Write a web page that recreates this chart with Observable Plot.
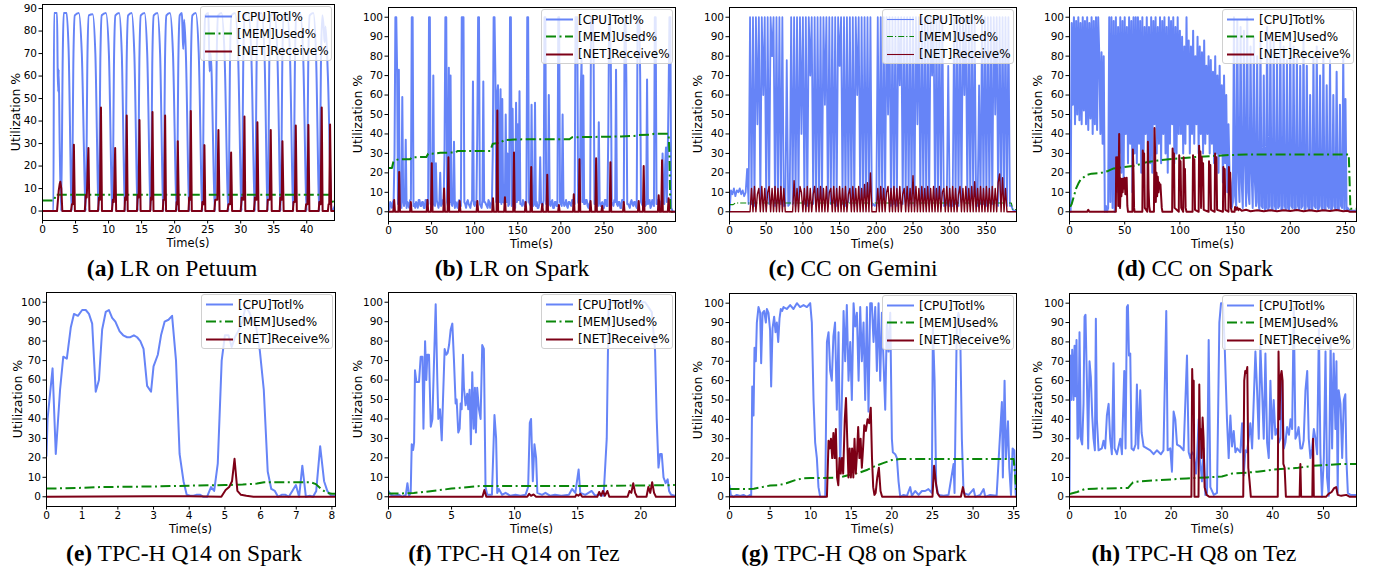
<!DOCTYPE html>
<html><head><meta charset="utf-8">
<script src="https://cdn.jsdelivr.net/npm/d3@7"></script>
<script src="https://cdn.jsdelivr.net/npm/@observablehq/plot@0.6"></script>
<style>
body{margin:0;background:#fff;width:1378px;height:569px;position:relative;overflow:hidden;font-family:"DejaVu Sans",sans-serif;color:#000;}
.ylab{position:absolute;font-size:12.5px;transform:translate(-50%,-50%) rotate(-90deg);white-space:nowrap;}
.xlab{position:absolute;font-size:11.5px;transform:translate(-50%,-50%);white-space:nowrap;}
.cap{position:absolute;font-family:"Liberation Serif",serif;font-size:23.5px;transform:translate(-50%,-50%);white-space:nowrap;}
.leg{position:absolute;width:132px;height:55px;background:rgba(255,255,255,0.8);border:1px solid #d0d0d0;border-radius:3px;box-sizing:border-box;}
.leg .row{position:absolute;left:0;height:17px;width:130px;}
.leg svg{position:absolute;left:4px;top:0;}
.leg span{position:absolute;left:36px;top:50%;transform:translateY(-50%);font-size:12px;white-space:nowrap;}
</style></head><body>
<script>
// ---------- labels ----------
const seriesNames = ["[CPU]Totl%", "[MEM]Used%", "[NET]Receive%"];
const captionLetters = ["(a)", "(b)", "(c)", "(d)", "(e)", "(f)", "(g)", "(h)"];
const captionTexts = ["LR on Petuum", "LR on Spark", "CC on Gemini", "CC on Spark",
  "TPC-H Q14 on Spark", "TPC-H Q14 on Tez", "TPC-H Q8 on Spark", "TPC-H Q8 on Tez"];
const yLabel = "Utilization %";
const xLabel = "Time(s)";

// ---------- tick labels ----------
const aYTicks = [0, 10, 20, 30, 40, 50, 60, 70, 80, 90];
const pctTicks = [0, 10, 20, 30, 40, 50, 60, 70, 80, 90, 100];
const aXTicks = [0, 5, 10, 15, 20, 25, 30, 35, 40];
const bXTicks = [0, 50, 100, 150, 200, 250, 300];
const cXTicks = [0, 50, 100, 150, 200, 250, 300, 350];
const dXTicks = [0, 50, 100, 150, 200, 250];
const eXTicks = [0, 1, 2, 3, 4, 5, 6, 7, 8];
const fXTicks = [0, 5, 10, 15, 20];
const gXTicks = [0, 5, 10, 15, 20, 25, 30, 35];
const hXTicks = [0, 10, 20, 30, 40, 50];

// ---------- (a) LR on Petuum : [time s, %] ----------
const aCpu = [[0,0],[1.65,0],[1.75,88],[2.2,88],[2.3,62],[2.38,53],[2.45,63],[2.6,30],[2.82,0],
 [3.07,70],[3.2,88],[3.65,88],[3.95,72],[4.44,0],
 [4.69,70],[4.89,87],[5.5,88],[5.95,70],[6.56,0],
 [6.81,70],[7.01,87],[7.6,87.5],[8.0,70],[8.52,0],
 [8.77,70],[8.97,87],[9.6,88],[10.05,70],[10.59,0],
 [10.84,70],[11.04,87],[11.6,88],[12.0,70],[12.51,0],
 [12.76,70],[12.96,87],[13.5,88],[13.9,70],[14.43,0],
 [14.68,70],[14.88,87],[15.45,88],[15.85,70],[16.39,0],
 [16.64,70],[16.84,87],[17.4,88],[17.8,70],[18.31,0],
 [18.56,70],[18.76,87],[19.3,88],[19.75,70],[20.33,0],
 [20.58,70],[20.78,87],[21.1,88],[21.2,80],[21.3,72],[21.45,85],[21.7,70],[22.24,0],
 [22.49,70],[22.69,87],[23.2,88],[23.65,70],[24.21,0],
 [24.46,70],[24.66,87],[25.1,88],[25.2,75],[25.3,62],[25.45,70],[26.13,0],
 [26.38,70],[26.58,87],[27.1,88],[27.55,70],[28.15,0],
 [28.4,70],[28.6,87],[29.15,88],[29.6,70],[30.16,0],
 [30.41,70],[30.61,87],[31.15,88],[31.6,70],[32.18,0],
 [32.43,70],[32.63,87],[33.15,88],[33.6,70],[34.1,0],
 [34.35,70],[34.55,87],[35.1,88],[35.55,70],[36.07,0],
 [36.32,70],[36.52,87],[37.0,88],[37.45,70],[37.98,0],
 [38.23,70],[38.43,87],[39.0,88],[39.45,70],[40.0,0],
 [40.25,70],[40.45,87],[41.0,88],[41.4,70],[41.92,0],
 [42.17,70],[42.37,87],[42.6,80],[42.7,75],[42.85,82],[43.2,60],[43.78,0],[44.2,2]];
const aMem = [[0,4.7],[1.8,4.7],[1.95,7.2],[43.5,7.2],[43.8,5],[44.2,3]];
const aNet = [[0,0],[2.2,0],[2.45,9],[2.6,12],[2.7,13],[2.85,10],[3.0,0],
 [4.3,0],[4.45,3],[4.6,3],[4.75,29.5],[4.9,0],
 [6.4,0],[6.55,7],[6.7,6],[6.95,28],[7.1,0],
 [8.4,0],[8.55,6],[8.7,5],[8.85,46],[9.0,0],
 [10.5,0],[10.65,5],[10.8,4],[11.0,28],[11.15,0],
 [12.4,0],[12.5,6],[12.65,5],[12.75,42.5],[12.9,0],
 [14.3,0],[14.4,7],[14.55,6],[14.68,40.5],[14.85,0],
 [16.3,0],[16.4,6],[16.5,5],[16.65,44],[16.8,0],
 [18.2,0],[18.3,5],[18.45,5],[18.56,42.5],[18.7,0],
 [20.2,0],[20.3,4],[20.4,3],[20.48,31],[20.65,0],
 [22.1,0],[22.2,6],[22.35,5],[22.45,44.5],[22.6,0],
 [24.1,0],[24.2,4],[24.4,3],[24.51,29.3],[24.65,0],
 [26.0,0],[26.15,5],[26.45,5],[26.63,36],[26.8,0],
 [28.0,0],[28.15,3],[28.4,3],[28.55,26],[28.7,0],
 [30.0,0],[30.15,6],[30.4,5],[30.57,42],[30.7,0],
 [32.0,0],[32.15,6],[32.4,5],[32.53,39.5],[32.7,0],
 [34.0,0],[34.1,5],[34.4,5],[34.55,36],[34.7,0],
 [35.9,0],[36.0,6],[36.2,5],[36.32,31],[36.5,0],
 [37.9,0],[38.0,4],[38.2,4],[38.34,38],[38.5,0],
 [39.8,0],[39.9,3],[40.1,3],[40.25,38.3],[40.4,0],
 [41.8,0],[41.9,4],[42.1,3],[42.27,46],[42.4,0],
 [43.2,0],[43.3,3],[43.4,3],[43.53,38.5],[43.7,0],[44.2,0]];

// ---------- (b) LR on Spark : CPU sampled every 1 s ----------
const bSampleStep = 1;
const bCpu = [
 3,1,5,4,2,5,6,30,100,100, 72,4,73,5,4,2,59,6,3,5, 37,2,5,4,2,6,6,100,100,3, 4,2,5,4,2,6,6,3,3,5,
 5,2,2,6,6,3,4,100,100,4, 5,3,70,4,3,25,6,4,2,5, 20,3,4,6,6,30,100,100,5,3, 74,5,70,4,3,5,36,2,5,4,
 2,5,6,3,3,100,100,100,5,4, 2,5,6,4,3,2,5,6,67,4, 3,5,5,40,100,100,4,3,2,6, 67,5,5,4,3,2,6,5,2,4,
 5,30,100,100,70,5,60,65,33,5, 63,4,58,5,5,4,50,5,30,3, 4,100,100,3,53,4,5,2,56,5, 45,6,62,4,4,3,6,5,3,4,
 5,100,100,5,4,3,55,5,3,4, 56,3,5,2,2,4,28,5,4,3, 6,100,100,4,5,3,60,4,3,5, 6,2,2,5,5,3,3,100,100,5,
 4,3,50,5,3,4,6,3,2,5, 5,4,3,6,6,4,4,100,100,100, 5,4,3,60,78,5,70,4,4,6, 6,3,2,4,5,100,100,100,80,4,
 4,5,6,3,46,5,3,4,5,2, 2,6,6,3,3,40,100,100,75,5, 4,3,6,5,73,4,3,5,5,2, 2,6,6,5,100,100,67,4,4,3,
 2,5,6,4,3,5,5,3,2,100, 100,100,70,5,4,3,6,5,3,4, 68,4,5,6,2,3,6,5,3,100, 100,4,4,6,6,5,2,3,30,5,
 4,24,33,5,30,60,100,100,2,1, 0,0,0];
const bMem = [[0,22.5],[4,22.5],[5.5,25.5],[8,26.5],[12,27],[25,27],[27,28],[44,28.2],[46,29.8],[56,30],[60,30.3],[78,30.5],[80,31.2],[118,31.3],[121,35],[130,35.5],[134,36.8],[146,37.2],[210,37.3],[213,38.3],[270,38.7],[285,39],[290,39.4],[305,39.6],[308,40.1],[325,40.1],[326,30],[327,0],[333,0]];
const bNet = [[0,0],[5.5,0],[6.6,6],[7.5,0],[11.5,0],[12.4,20.5],[13.3,0],[25,0],[25.9,5],[26.8,0],[44.3,0],[45.2,6],[46.1,0],[49.3,0],[50.2,25],[51.1,0],[63.6,0],[64.5,12],[65.4,0],[68.6,0],[69.5,28],[70.4,0],[81.7,0],[82.6,5.5],[83.5,0],[102.2,0],[103.1,5.5],[104,0],[120.3,0],[121.2,7],[122.1,0],[125.4,0],[126.3,52],[127.2,0],[134.2,0],[135.1,7.5],[136,0],[144.7,0],[145.6,30.5],[146.5,0],[158.2,0],[159.1,5],[160,0],[164.7,0],[165.6,23],[166.5,0],[177.5,0],[178.4,4],[179.3,0],[183.3,0],[184.2,19],[185.1,0],[196.8,0],[197.7,3.5],[198.6,0],[214.1,0],[215,9],[215.9,0],[220.7,0],[221.6,27],[222.5,0],[233.5,0],[234.4,5.5],[235.3,0],[240,0],[240.9,27.5],[241.8,0],[247,0],[247.9,3],[248.8,0],[256.6,0],[257.5,25.5],[258.4,0],[272.1,0],[273,5],[273.9,0],[289.4,0],[290.3,5.5],[291.2,0],[295.2,0],[296.1,23.5],[297,0],[312.6,0],[313.5,8.5],[314.4,0],[316.5,0],[317.4,26.5],[318.3,0],[324.1,0],[325,7],[325.9,0],[333,0]];

// ---------- (c) CC on Gemini : CPU and NET sampled every 2 s ----------
const cSampleStep = 2;
const cCpu = [0,11,9,12,8,11,10,12,9,11,8,10,22,4,
 100,4,100,3,100,45,100,4,100,60,100,3,100,4,100,80,100,3,100,5,100,4,100,3,
 3,78,3,4,
 100,4,100,3,100,5,100,40,100,4,100,3,100,70,100,4,100,3,100,5,100,4,100,55,100,3,100,4,100,5,100,3,100,75,100,4,100,3,100,5,100,4,100,3,100,60,100,4,100,3,100,5,100,4,100,
 3,4,3,4,
 100,3,100,4,100,5,100,50,100,3,100,4,100,3,100,65,100,4,100,5,100,3,100,4,100,3,100,45,100,4,100,5,100,3,100,4,100,70,100,3,100,4,100,5,100,3,
 3,4,75,3,4,3,
 100,4,100,3,100,5,100,60,100,4,100,3,100,5,100,3,
 3,65,4,
 100,4,100,3,100,5,100,4,100,50,100,3,100,4,100,5,100,3,100,
 3,3,1,0.5,0.5];
const cNet = [0,0,0,0,0,0,0,0,0,0,0,0,0,0,0,
 12,0,13,0,9,12,0,13,0,12,0,10,13,0,12,0,13,0,12,0,13,0,12,
 0,0,0,0,0,0,
 16,0,12,0,13,10,0,12,0,13,0,12,0,9,13,0,12,0,13,0,12,0,13,0,10,12,0,13,0,12,0,13,0,12,0,13,0,9,12,0,13,0,12,0,13,0,12,0,14,0,15,0,20,
 0,0,0,0,
 12,0,13,0,12,0,10,13,0,12,0,13,0,12,0,13,0,9,12,0,13,0,12,0,18.5,0,13,0,12,0,13,0,12,0,13,
 0,
 12,0,13,0,12,0,13,0,10,12,0,13,0,12,0,13,0,12,0,9,13,0,12,0,13,0,12,0,13,0,15.5,0,12,0,13,0,12,0,13,0,12,0,13,0,12,0,15,19.5,
 0,17.5,0,12,0,
 0,0,0,0,0,0];
const cMem = [[0,3.7],[5,3.7],[8,4.5],[384,4.5],[386,1.2],[391,1.2]];

// ---------- (d) CC on Spark : CPU sampled every 1 s ----------
const dSampleStep = 1;
const dCpu = [47,0,97,55,100,45,98,50,100,47,97,45,100,52,98,45,100,42,97,48,100,40,98,45,100,42,
 100,80,40,82,35,80,0,3,0,2,
 100,5,100,2,98,0,100,10,95,30,100,20,98,15,100,40,95,25,100,35,98,10,100,30,100,
 25,100,35,98,20,100,15,95,40,100,30,95,25,100,20,98,45,100,30,95,35,100,25,98,40,100,30,95,20,100,35,98,45,100,25,95,30,100,40,93,
 40,90,30,85,35,100,45,88,30,85,40,93,35,80,45,90,30,85,40,82,30,88,35,75,40,80,30,78,35,72,25,80,30,70,20,75,30,65,15,70,25,60,10,45,20,15,
 2,5,100,8,3,98,20,5,95,15,2,93,25,3,100,10,4,85,20,2,90,15,3,80,5,1,88,3,2,70,1,2,95,1,3,90,2,1,88,3,1,80,2,3,92,1,2,85,3,1,78,2,1,90,3,2,85,1,2,80,3,1,75,2,3,91,1,2,75,3,1,60,2,1,80,3,2,85,1,2,70,3,1,82,2,1,65,3,2,78,1,2,60,3,1,72,2,1,55,3,2,80,1,58,1,2,
 1,0.5,0.5,0.5,0.5,0.5,0.5,0.5];
const dMem = [[0,3],[1,3],[2,4],[4,8],[6,12],[8,14.5],[10,16.5],[13,17.8],[16,19],[20,19.6],[26,19.8],[30,20.2],[35,21],[40,22.3],[50,23],[60,23.8],[70,25.5],[80,26.3],[90,27],[100,27.5],[115,28.2],[130,28.7],[146,29.2],[160,29.4],[200,29.5],[253,29.5],[254.5,1.5],[260,1.5]];
const dNet = [[0,0],[16,0],[17,1],[18,0],[42,0],[42.3,28],[43,20],[43.6,28],[44.2,3],[45,40],[45.8,2],[46.4,17],[47,8],[47.6,17],[48.2,10],[48.8,17],[49.4,12],[50,17.5],[50.6,9],[51.2,16],[51.8,17.5],[52.4,3],[53,0],[57,0],[57.4,32],[58,20],[58.5,2],[59,0],[66,0],[66.4,31.5],[67,25],[67.6,30],[68.2,2],[70.5,0],[71,36],[71.6,12],[72.2,3],[73,0],[76.5,0],[77,43],[77.6,30],[78.2,5],[78.8,20],[79.4,8],[80,18],[80.6,10],[81.2,15],[81.8,12],[82.4,14],[83,8],[83.6,2],[84.2,0],[93,0],[93.4,32.5],[94,25],[94.6,30],[95.2,2],[99,0],[99.4,29],[100,20],[100.6,26],[101.2,2],[103,0],[103.4,28],[104,15],[104.6,22],[105.2,2],[106,0],[111.5,0],[111.9,29],[112.5,20],[113.1,27],[113.7,1],[117,0],[117.4,34],[118,25],[118.6,31],[119.2,2],[119.8,28],[120.4,15],[121,25],[121.6,1],[126,0],[126.4,26],[127,18],[127.6,24],[128.2,1],[131.5,0],[131.9,30],[132.5,20],[133.1,28],[133.7,1],[139,0],[139.4,23],[140,15],[140.6,22],[141.2,1],[144,0],[144.4,23],[145,12],[145.6,20],[146.2,2],[147,0],[149.5,0],[150,2.5],[151,1],[152,2.2],[153,0.8],[154,1.5],[156,0.5],[160,1],[164,0.3],[170,0.8],[176,0.3],[182,0.8],[188,0.3],[194,0.8],[200,0.4],[206,0.9],[212,0.3],[218,0.8],[224,0.3],[230,0.8],[236,0.4],[242,0.9],[248,0.3],[252,0.5],[254,0],[260,0]];

// ---------- (e) TPC-H Q14 on Spark ----------
const eCpu = [[0,21],[0.03,40],[0.17,66],[0.26,22],[0.38,55],[0.47,72],[0.57,71],[0.68,87],[0.77,94],[0.88,93],[1.0,96],[1.1,96],[1.19,94],[1.28,89],[1.38,54],[1.47,60],[1.56,86],[1.66,95],[1.75,96],[1.84,92],[1.93,90],[2.05,85],[2.15,83],[2.26,82],[2.35,82],[2.45,83],[2.54,82],[2.63,80],[2.72,76],[2.82,57],[2.93,54],[3.0,67],[3.12,73],[3.21,83],[3.31,90],[3.42,91],[3.52,93],[3.63,70],[3.73,22],[3.84,8],[3.93,1],[4.03,0.5],[4.12,0.5],[4.2,1],[4.31,1],[4.4,0],[4.5,0],[4.61,5],[4.7,3],[4.8,17],[4.91,70],[5.0,83],[5.1,83],[5.19,77],[5.28,82],[5.4,86],[5.49,90],[5.58,98],[5.68,95],[5.78,90],[5.87,88],[5.98,75],[6.09,55],[6.2,13],[6.3,4],[6.4,3],[6.49,0],[6.59,1],[6.7,1],[6.79,0],[6.89,3],[6.99,6],[7.08,0],[7.17,16],[7.27,0],[7.38,0.5],[7.47,0],[7.56,3],[7.67,26],[7.78,8],[7.87,3],[7.98,0.5],[8.1,0.5]];
const eMem = [[0,4.2],[1,4.6],[1.5,5],[2,5.1],[3,5.3],[4,5.7],[5,6],[5.5,6.3],[5.9,6.8],[6.1,7.5],[7.4,7.5],[7.55,6.5],[7.7,4],[7.85,2],[8.0,1.5],[8.1,1.5]];
const eNet = [[0,0],[3,0.3],[4,0.3],[4.9,0],[5.02,3.5],[5.12,5],[5.2,8],[5.27,19.5],[5.35,3],[5.45,1],[5.6,0.5],[5.8,0],[8.1,0]];

// ---------- (f) TPC-H Q14 on Tez ----------
const fCpu = [[0,3],[0.18,1],[0.45,0.5],[0.84,1],[1.1,0],[1.37,1],[1.5,7],[1.63,0.5],[1.76,2],[1.84,27],[1.95,24],[2.03,28],[2.1,65],[2.21,59],[2.42,59],[2.55,72],[2.69,72],[2.77,35],[2.9,80],[3.0,60],[3.08,73],[3.21,73],[3.35,36],[3.48,40],[3.61,70],[3.74,99],[3.87,60],[3.95,40],[4.08,45],[4.22,29],[4.32,50],[4.45,76],[4.58,73],[4.69,74],[4.8,78],[4.93,86],[5.06,89],[5.19,70],[5.32,48],[5.4,50],[5.53,33],[5.64,35],[5.72,48],[5.8,45],[5.9,73],[5.98,56],[6.11,47],[6.24,53],[6.32,45],[6.43,55],[6.53,27],[6.64,64],[6.75,35],[6.85,56],[6.93,33],[7.03,56],[7.17,45],[7.3,40],[7.43,78],[7.56,76],[7.69,5],[7.83,1],[8.2,1],[8.4,42],[8.53,30],[8.62,2],[8.75,4],[9.0,1],[9.28,2],[9.67,0.5],[10.07,1],[10.46,0.5],[10.86,1],[11.07,5],[11.2,38],[11.3,40],[11.44,8],[11.57,27],[11.7,20],[11.8,2],[12.17,1],[12.44,2],[12.83,0.5],[13.2,1],[13.7,0.5],[14.3,1],[14.55,4],[14.81,2],[15.07,14],[15.2,2],[15.6,1],[16.1,3],[16.39,0.5],[16.65,1],[17.05,0.5],[17.3,30],[17.45,100],[17.7,100],[20.34,100],[20.87,95],[21.13,75],[21.26,40],[21.4,15],[21.53,22],[21.66,22],[21.8,10],[21.97,7],[22.13,9],[22.24,3],[22.4,1],[22.7,0.5]];
const fMem = [[0,1.7],[1,1.7],[2,2],[3,2.6],[4,3.4],[5,4.2],[6,4.8],[7,5.4],[7.5,5.6],[10,5.5],[15,5.5],[20,5.8],[22.7,6]];
const fNet = [[0,0],[7.45,0],[7.6,3.5],[7.75,0],[11.0,0],[11.15,1.5],[11.3,0.5],[11.5,1.2],[11.7,0],[14.8,0],[14.9,1.2],[15.05,0.5],[15.2,1.5],[15.35,0],[16.55,0],[16.7,2.5],[16.85,0.5],[17.0,3],[17.15,0.5],[17.35,3],[17.5,0],[18.95,0],[19.1,3],[19.25,2],[19.4,7],[19.55,2],[19.7,0],[20.45,0],[20.6,5],[20.75,2],[20.9,7.5],[21.05,2],[21.2,0],[22.7,0]];

// ---------- (g) TPC-H Q8 on Spark ----------
const gCpu = [[0,6],[0.16,1],[0.49,0],[0.9,1],[1.31,0.5],[1.72,1],[2.13,0],[2.55,1],[2.67,0.5],[2.8,57],[2.96,42],[3.08,77],[3.24,70],[3.37,90],[3.57,98],[3.78,95],[3.9,69],[4.07,95],[4.27,96],[4.48,90],[4.6,97],[4.8,95],[5.0,86],[5.13,57],[5.3,87],[5.5,93],[5.67,85],[5.83,90],[6.0,80],[6.16,92],[6.32,97],[6.49,96],[6.65,98],[7.06,97],[7.47,99],[7.88,97],[8.3,100],[8.7,98],[9.12,99],[9.53,98],[9.94,100],[10.14,90],[10.35,50],[10.55,28],[10.76,20],[10.96,5],[11.17,0],[11.58,0],[11.79,0],[12.0,80],[12.2,85],[12.4,65],[12.6,60],[12.8,83],[13.0,90],[13.22,45],[13.43,85],[13.63,15],[13.84,50],[14.05,96],[14.25,70],[14.45,99],[14.66,60],[14.87,80],[15.07,50],[15.28,100],[15.48,88],[15.69,95],[15.9,60],[16.1,98],[16.3,70],[16.51,90],[16.71,50],[16.92,98],[17.12,44],[17.33,100],[17.53,100],[17.74,80],[17.95,98],[18.15,65],[18.36,100],[18.56,60],[18.77,95],[18.97,70],[19.18,45],[19.38,90],[19.59,75],[19.8,95],[20.0,30],[20.12,23],[20.41,22],[20.62,20],[20.82,8],[21.03,0],[21.44,1],[21.85,0.5],[22.26,5],[22.46,0.5],[22.87,3],[23.29,1],[23.7,3],[24.1,3],[24.5,4],[24.92,2],[25.05,88],[25.26,60],[25.46,6],[25.75,1],[26.37,0.5],[26.98,1],[27.6,17],[27.72,2],[28.0,90],[28.2,95],[28.4,90],[28.62,30],[28.83,2],[29.45,1],[30.06,4],[30.27,0],[30.88,1],[31.3,4],[31.5,0],[32.1,1],[32.9,0.5],[33.55,49],[33.67,10],[33.88,60],[34.05,20],[34.3,39],[34.46,15],[34.67,1],[34.87,25],[35.08,24],[35.24,2],[35.3,0]];
const gMem = [[0,4],[2,4],[3,4.2],[4,5],[5,5.8],[6,6],[7,7],[8,8.5],[9,9.5],[10,9.7],[13,9.8],[14,10.5],[15,11.5],[16,12.5],[17,14],[18,16],[19,17.5],[20,19],[21,19.5],[35,19.5],[35.2,10],[35.3,3]];
const gNet = [[0,0],[12.0,0],[12.2,29],[12.35,25],[12.5,30],[12.65,20],[12.8,33],[12.95,20],[13.1,35],[13.25,10],[13.4,6],[13.55,20],[13.7,12],[13.85,20],[14.0,12],[14.2,40],[14.35,51],[14.5,30],[14.65,10],[14.8,25],[14.95,10],[15.1,25],[15.25,10],[15.4,30],[15.55,12],[15.7,22],[15.85,36],[16.0,20],[16.15,30],[16.3,15],[16.45,25],[16.6,37],[16.8,34],[17.0,40],[17.2,38],[17.4,46],[17.55,20],[17.7,5],[17.85,1],[18.0,2],[18.2,10],[18.4,15],[18.6,3],[18.8,0],[25.0,0],[25.2,16],[25.4,8],[25.6,2],[25.9,0],[28.5,0],[28.75,5],[29.0,0],[35.3,0]];

// ---------- (h) TPC-H Q8 on Tez ----------
const hCpu = [[0,3],[0.13,73],[0.33,50],[0.53,76],[0.79,50],[0.99,78],[1.18,52],[1.38,81],[1.58,30],[1.77,31],[1.97,85],[2.23,30],[2.5,27],[2.76,48],[2.96,93],[3.15,94],[3.42,60],[3.68,25],[3.94,70],[4.2,62],[4.47,42],[4.73,30],[5.0,24],[5.19,92],[5.39,40],[5.72,24],[6.37,25],[6.7,29],[7.03,25],[7.36,42],[7.7,48],[8.0,30],[8.34,22],[8.67,69],[8.87,25],[9.33,22],[10.0,30],[10.32,22],[10.78,65],[11.04,25],[11.3,98],[11.5,99],[11.7,73],[11.96,74],[12.22,25],[12.62,24],[13.0,27],[13.27,58],[13.53,25],[13.93,55],[14.2,33],[14.59,26],[15.24,25],[15.9,24],[16.56,22],[17.2,24],[18.0,22],[18.5,24],[19.05,96],[19.32,24],[19.84,25],[20.17,13],[20.5,44],[20.83,40],[21.16,27],[21.8,26],[22.47,24],[23.13,73],[23.46,23],[23.8,20],[24.1,23],[24.45,22],[24.9,12],[25.1,20],[25.43,40],[25.75,18],[26.08,8],[26.41,25],[26.74,1],[27.07,2],[27.4,81],[27.73,5],[28.4,1],[29.04,2],[29.5,90],[29.83,100],[30.2,100],[30.55,78],[31.0,40],[31.34,20],[31.67,42],[32.0,26],[32.33,34],[32.66,23],[33.0,25],[33.64,23],[33.97,38],[34.3,11],[34.63,24],[34.96,23],[35.6,38],[35.95,25],[36.6,75],[36.93,55],[37.26,30],[37.58,78],[37.91,55],[38.24,30],[38.57,74],[38.9,28],[39.23,20],[39.55,60],[39.88,30],[40.2,50],[40.53,32],[40.87,35],[41.2,28],[41.52,30],[41.85,60],[42.2,25],[42.5,28],[42.84,36],[43.2,32],[43.5,40],[43.83,35],[44.15,98],[44.48,30],[44.8,32],[45.1,36],[45.46,25],[45.8,25],[46.1,29],[46.45,55],[46.8,65],[47.1,30],[47.43,20],[47.76,25],[48.1,35],[48.42,30],[48.75,22],[49.1,88],[49.4,22],[49.7,0],[50.07,20],[50.4,75],[50.7,10],[51.05,0.5],[51.4,80],[51.7,25],[52.0,74],[52.35,35],[52.55,70],[52.8,2],[53.0,55],[53.35,48],[53.68,20],[54.0,50],[54.3,53],[54.5,20],[54.8,2],[55.3,1],[56.5,1]];
const hMem = [[0,1.5],[1.5,2.5],[3,4],[5,4.2],[10,4.5],[11.5,4.5],[12,6],[12.5,7.5],[14,8],[17,8.5],[20,9],[23,9.5],[27,10],[30,10.5],[32,12],[35,12.5],[37,13],[40,14],[45,15],[48,16],[51,16.5],[54,17],[56.5,17]];
const hNet = [[0,0],[24.0,0],[24.15,66],[24.3,50],[24.45,60],[24.6,0],[25.4,0],[25.55,58],[25.7,30],[25.85,35],[26.0,20],[26.2,41],[26.4,30],[26.6,5],[27.0,1],[27.5,0],[34.2,0],[34.4,60],[34.6,65],[34.8,64],[35.0,67],[35.2,15],[35.45,8],[35.7,0],[41.0,0],[41.15,75],[41.35,40],[41.55,62],[41.75,65],[41.95,60],[42.1,17],[42.35,15],[42.6,0],[45.3,0],[45.45,17],[45.6,0],[47.8,0],[47.95,30],[48.1,0],[50.5,0],[51.0,1.5],[51.6,2.5],[52.1,4.5],[52.5,5],[52.8,1],[53.5,0.5],[54.5,1],[55.2,0],[56.5,0]];

// ---------- styling / layout ----------
const CPU_COLOR = "#6684f7", MEM_COLOR = "#0a870a", NET_COLOR = "#7d0016";
const sampled = (vals, step) => vals.map((v, i) => [i * step, v]);

const panels = [
  {L:42,  R:334,  T:4,   B:220, xMax:44.2, yDom:[-4.2,91.8], yTicks:aYTicks, xTicks:aXTicks, ylabX:15,   capX:172,  capY:268, cpu:aCpu, mem:aMem, net:aNet, curve:"monotone-x"},
  {L:388, R:675,  T:7,   B:221, xMax:333,  yDom:[-5,105], yTicks:pctTicks, xTicks:bXTicks, ylabX:357,  capX:512,  capY:268, cpu:sampled(bCpu,bSampleStep), mem:bMem, net:bNet},
  {L:729, R:1016, T:7,   B:221, xMax:391,  yDom:[-5,105], yTicks:pctTicks, xTicks:cXTicks, ylabX:697,  capX:853,  capY:268, cpu:sampled(cCpu,cSampleStep), mem:cMem, net:sampled(cNet,cSampleStep), thin:true},
  {L:1069,R:1356, T:7,   B:221, xMax:260,  yDom:[-5,105], yTicks:pctTicks, xTicks:dXTicks, ylabX:1037, capX:1195, capY:268, cpu:sampled(dCpu,dSampleStep), mem:dMem, net:dNet},
  {L:46,  R:335,  T:292, B:506, xMax:8.1,  yDom:[-5,105], yTicks:pctTicks, xTicks:eXTicks, ylabX:17,   capX:184,  capY:553, cpu:eCpu, mem:eMem, net:eNet},
  {L:388, R:675,  T:292, B:506, xMax:22.75,yDom:[-5,105], yTicks:pctTicks, xTicks:fXTicks, ylabX:357,  capX:514,  capY:553, cpu:fCpu, mem:fMem, net:fNet},
  {L:729, R:1016, T:293, B:506, xMax:35.35,yDom:[-5,105], yTicks:pctTicks, xTicks:gXTicks, ylabX:697,  capX:854,  capY:553, cpu:gCpu, mem:gMem, net:gNet},
  {L:1069,R:1356, T:293, B:506, xMax:56.5, yDom:[-5,105], yTicks:pctTicks, xTicks:hXTicks, ylabX:1037, capX:1194, capY:553, cpu:hCpu, mem:hMem, net:hNet}
];

function addDiv(cls, x, y, html) {
  const d = document.createElement("div");
  d.className = cls; d.style.left = x + "px"; d.style.top = y + "px";
  d.innerHTML = html; document.body.appendChild(d); return d;
}

panels.forEach((p, i) => {
  const ML = 40, MR = 4, MT = 4, MB = 24;
  const W = p.R - p.L + ML + MR, H = p.B - p.T + MT + MB;
  const lw = p.thin ? 1.1 : 2;
  const cpuW = p.thin ? 1.8 : 2;
  const netW = p.thin ? 1.4 : 2;
  const dash = p.thin ? "6,2,1.2,2" : "10,3.5,2,3.5";
  const chart = Plot.plot({
    width: W, height: H, marginLeft: ML, marginRight: MR, marginTop: MT, marginBottom: MB,
    x: {domain: [0, p.xMax]},
    y: {domain: p.yDom},
    style: {fontFamily: "DejaVu Sans", fontSize: "10px", color: "#000", background: "transparent", overflow: "visible"},
    marks: [
      Plot.line(p.cpu, {stroke: CPU_COLOR, strokeWidth: cpuW, curve: p.curve || "linear", clip: true}),
      Plot.line(p.mem, {stroke: MEM_COLOR, strokeWidth: lw, strokeDasharray: dash, strokeLinecap: "butt", clip: true}),
      Plot.line(p.net, {stroke: NET_COLOR, strokeWidth: netW, clip: true}),
      Plot.frame({stroke: "#000", strokeWidth: 1}),
      Plot.axisX({ticks: p.xTicks, tickSize: 3.5, tickPadding: 2, label: null, fontSize: 10.5}),
      Plot.axisY({ticks: p.yTicks, tickSize: 3.5, tickPadding: 2, label: null, fontSize: 10.5})
    ]
  });
  chart.style.position = "absolute";
  chart.style.left = (p.L - ML) + "px";
  chart.style.top = (p.T - MT) + "px";
  document.body.appendChild(chart);

  // axis labels
  addDiv("ylab", p.ylabX, (p.T + p.B) / 2, yLabel);
  addDiv("xlab", (p.L + p.R) / 2, p.B + 23, xLabel);

  // legend
  const leg = addDiv("leg", p.R - 134, p.T + 2, "");
  const styles = [
    {c: CPU_COLOR, d: "", w: p.thin ? 1.1 : 2},
    {c: MEM_COLOR, d: dash, w: lw},
    {c: NET_COLOR, d: "", w: p.thin ? 1.1 : 2}
  ];
  seriesNames.forEach((name, k) => {
    const row = document.createElement("div");
    row.className = "row"; row.style.top = (1 + k * 17.3) + "px";
    row.innerHTML = `<svg width="27" height="17"><line x1="0" y1="8.5" x2="27" y2="8.5" stroke="${styles[k].c}" stroke-width="${styles[k].w}" ${styles[k].d ? `stroke-dasharray="${styles[k].d}"` : ""}/></svg><span>${name}</span>`;
    leg.appendChild(row);
  });

  // caption
  addDiv("cap", p.capX, p.capY, `<b>${captionLetters[i]}</b> ${captionTexts[i]}`);
});
</script></body></html>
